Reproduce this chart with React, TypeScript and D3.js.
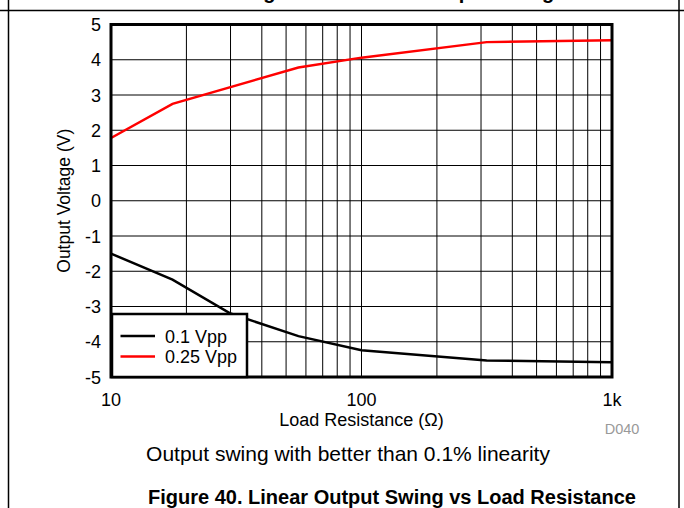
import * as d3 from 'd3';

// Load resistance (ohms) and output voltage (V)
const blackOhms = [10, 17.6, 30, 56, 100, 316, 1000];
const blackVolts = [-1.5, -2.24, -3.2, -3.84, -4.24, -4.53, -4.58];
const redOhms = [10, 17.6, 56, 100, 316, 1000];
const redVolts = [1.78, 2.75, 3.78, 4.06, 4.5, 4.55];

const yTicks = [5, 4, 3, 2, 1, 0, -1, -2, -3, -4, -5];
const xTicks = [10, 100, 1000];
const xTickLabels = ['10', '100', '1k'];
const seriesNames = ['0.1 Vpp', '0.25 Vpp'];
const seriesColors = ['#000000', '#ff0000'];

const FONT = 'Arial, "Liberation Sans", Helvetica, sans-serif';

export default function App() {
  const width = 684;
  const height = 508;
  const plot = { left: 111, right: 612, top: 24.5, bottom: 377 };

  const x = d3.scaleLog().domain([10, 1000]).range([plot.left, plot.right]);
  const y = d3.scaleLinear().domain([-5, 5]).range([plot.bottom, plot.top]);

  // minor log grid: 20..90, 200..900
  const minorX: number[] = [];
  [10, 100].forEach((dec) => {
    for (let k = 2; k <= 9; k++) minorX.push(dec * k);
  });

  const line = d3
    .line<[number, number]>()
    .x((d) => x(d[0]))
    .y((d) => y(d[1]));

  const blackPts = blackOhms.map((r, i) => [r, blackVolts[i]] as [number, number]);
  const redPts = redOhms.map((r, i) => [r, redVolts[i]] as [number, number]);

  const legend = { x: 112, y: 314, w: 135, h: 63 };

  return (
    <div style={{ position: 'fixed', left: 0, top: 0 }}>
      <svg width={width} height={height} style={{ display: 'block', background: '#fff' }} fontFamily={FONT}>
        {/* clipped heading from the page above */}
        <text x={385} y={-1} textAnchor="middle" fontSize={20} fontWeight="bold">
          Voltage Headroom vs Output Swing
        </text>

        {/* page frame */}
        <line x1={0} x2={width} y1={10.5} y2={10.5} stroke="#000" strokeWidth={1.5} />
        <line x1={8.5} x2={8.5} y1={0} y2={height} stroke="#000" strokeWidth={1.5} />
        <line x1={679} x2={679} y1={0} y2={height} stroke="#000" strokeWidth={1.5} />

        {/* grid */}
        {yTicks.map((t) => (
          <line key={'gy' + t} x1={plot.left} x2={plot.right} y1={y(t)} y2={y(t)} stroke="#000" strokeWidth={1} />
        ))}
        {minorX.map((t) => (
          <line key={'gx' + t} x1={x(t)} x2={x(t)} y1={plot.top} y2={plot.bottom} stroke="#000" strokeWidth={1} />
        ))}
        <line x1={x(100)} x2={x(100)} y1={plot.top} y2={plot.bottom} stroke="#000" strokeWidth={1} />

        {/* data */}
        <path d={line(redPts) || ''} fill="none" stroke={seriesColors[1]} strokeWidth={2.5} />
        <path d={line(blackPts) || ''} fill="none" stroke={seriesColors[0]} strokeWidth={2.5} />

        {/* plot border */}
        <rect
          x={plot.left}
          y={plot.top}
          width={plot.right - plot.left}
          height={plot.bottom - plot.top}
          fill="none"
          stroke="#000"
          strokeWidth={3}
        />

        {/* y tick labels */}
        {yTicks.map((t) => (
          <text key={'ty' + t} x={plot.left - 10} y={y(t) + 6.5} textAnchor="end" fontSize={18}>
            {t}
          </text>
        ))}

        {/* x tick labels */}
        {xTicks.map((t, i) => (
          <text key={'tx' + t} x={x(t)} y={406} textAnchor="middle" fontSize={18}>
            {xTickLabels[i]}
          </text>
        ))}

        {/* axis titles */}
        <text
          transform={`translate(70,${(plot.top + plot.bottom) / 2}) rotate(-90)`}
          textAnchor="middle"
          fontSize={17.5}
        >
          Output Voltage (V)
        </text>
        <text x={x(100)} y={426} textAnchor="middle" fontSize={18}>
          Load Resistance (Ω)
        </text>
        <text x={622} y={434} textAnchor="middle" fontSize={14.5} fill="#999">
          D040
        </text>

        {/* legend */}
        <rect x={legend.x} y={legend.y} width={legend.w} height={legend.h} fill="#fff" stroke="#000" strokeWidth={2.5} />
        {seriesNames.map((name, i) => (
          <g key={name} transform={`translate(${legend.x},${legend.y + 22 + i * 20.5})`}>
            <line x1={8.5} x2={43} y1={0} y2={0} stroke={seriesColors[i]} strokeWidth={2.5} />
            <text x={53} y={6.5} fontSize={18}>
              {name}
            </text>
          </g>
        ))}

        {/* captions */}
        <text x={348} y={461} textAnchor="middle" fontSize={21}>
          Output swing with better than 0.1% linearity
        </text>
        <text x={392} y={504} textAnchor="middle" fontSize={20}>
          <tspan fontWeight="bold">Figure 40. Linear Output Swing vs Load Resistance</tspan>
        </text>
      </svg>
    </div>
  );
}
